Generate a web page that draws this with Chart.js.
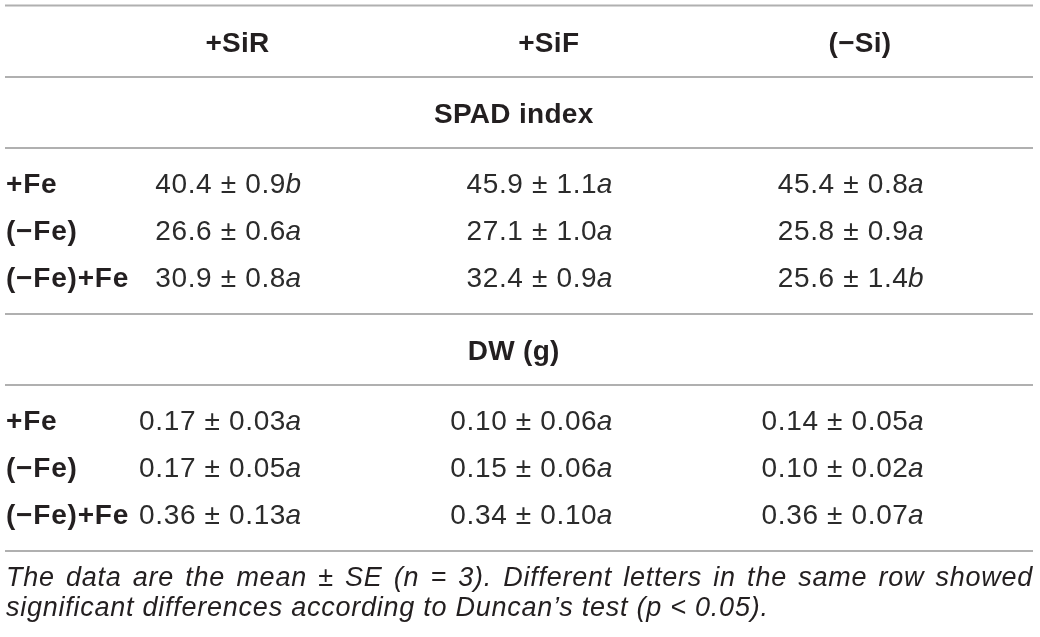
<!DOCTYPE html>
<html>
<head>
<meta charset="utf-8">
<script src="https://cdn.jsdelivr.net/npm/chart.js@4.4.1/dist/chart.umd.min.js"></script>
<style>
  html, body { margin: 0; padding: 0; background: #ffffff; }
  #wrap { width: 1040px; height: 637px; position: relative; }
</style>
</head>
<body>
<div id="wrap"><canvas id="c" width="1040" height="637"></canvas></div>
<script>
// ---------- data ----------
const columns = ['+SiR', '+SiF', '(\u2212Si)'];
const rowLabels = ['+Fe', '(\u2212Fe)', '(\u2212Fe)+Fe'];
const sectionTitles = ['SPAD index', 'DW (g)'];

// rows = Fe treatment, columns = Si treatment
const spadMean   = [[40.4, 45.9, 45.4], [26.6, 27.1, 25.8], [30.9, 32.4, 25.6]];
const spadSE     = [[0.9, 1.1, 0.8], [0.6, 1.0, 0.9], [0.8, 0.9, 1.4]];
const spadLetter = [['b', 'a', 'a'], ['a', 'a', 'a'], ['a', 'a', 'b']];

const dwMean   = [[0.17, 0.10, 0.14], [0.17, 0.15, 0.10], [0.36, 0.34, 0.36]];
const dwSE     = [[0.03, 0.06, 0.05], [0.05, 0.06, 0.02], [0.13, 0.10, 0.07]];
const dwLetter = [['a', 'a', 'a'], ['a', 'a', 'a'], ['a', 'a', 'a']];

const footnoteLine1 = 'The data are the mean \u00b1 SE (n = 3). Different letters in the same row showed';
const footnoteLine2 = 'significant differences according to Duncan\u2019s test (p < 0.05).';

// ---------- layout (sizes) ----------
const W = 1040, H = 637;
const colPitch = 311.25, firstColCenter = 237.5;
const valueRightOffset = 63.5;
const FONT = '"Liberation Sans", Arial, Helvetica, sans-serif';
const textColor = '#231f20';
const valueColor = '#2b2b2b';
const ruleColor = '#b0b0b0';

const topRule = 5.5;
const headH = 71.5, headBase = 46.5;
const secH = 71, secBase = 45.5;
const dataPadTop = 45, dataPitch = 47, dataPadBottom = 27;
const footFirst = 35, footPitch = 30;

const xMin = 1 - firstColCenter / colPitch;
const xMax = xMin + W / colPitch;

const sections = [
  { title: sectionTitles[0], mean: spadMean, se: spadSE, letter: spadLetter, dec: 1 },
  { title: sectionTitles[1], mean: dwMean, se: dwSE, letter: dwLetter, dec: 2 }
];

function setSpacing(ctx, v) { if ('letterSpacing' in ctx) ctx.letterSpacing = v + 'px'; }

const tablePlugin = {
  id: 'tablePlugin',
  afterDraw(chart) {
    const ctx = chart.ctx;
    const xs = chart.scales.x, ys = chart.scales.y;
    const left = chart.chartArea.left;
    const px = v => xs.getPixelForValue(v);
    const py = v => ys.getPixelForValue(v);
    const ruleL = left + 5, ruleR = left + 1033;

    ctx.save();
    const rule = (yv) => {
      ctx.beginPath();
      ctx.strokeStyle = ruleColor;
      ctx.lineWidth = 2;
      ctx.moveTo(ruleL, py(yv));
      ctx.lineTo(ruleR, py(yv));
      ctx.stroke();
    };

    let y = topRule;
    rule(y);
    // header
    ctx.fillStyle = textColor;
    ctx.font = 'bold 28px ' + FONT;
    setSpacing(ctx, 0.3);
    ctx.textAlign = 'center';
    ctx.textBaseline = 'alphabetic';
    columns.forEach((c, i) => ctx.fillText(c, px(i + 1), py(y + headBase)));
    y += headH;
    rule(y);

    sections.forEach(sec => {
      // section title
      ctx.fillStyle = textColor;
      ctx.font = 'bold 28px ' + FONT;
      setSpacing(ctx, 0.3);
      ctx.textAlign = 'center';
      ctx.fillText(sec.title, px(2) - 35, py(y + secBase));
      y += secH;
      rule(y);
      // data rows
      rowLabels.forEach((lab, r) => {
        const by = py(y + dataPadTop + r * dataPitch);
        ctx.fillStyle = textColor;
        ctx.font = 'bold 28px ' + FONT;
        setSpacing(ctx, 0.8);
        ctx.textAlign = 'left';
        ctx.fillText(lab, left + 6, by);
        for (let c = 0; c < columns.length; c++) {
          const main = sec.mean[r][c].toFixed(sec.dec) + ' \u00b1 ' + sec.se[r][c].toFixed(sec.dec);
          const letter = sec.letter[r][c];
          const right = px(c + 1) + valueRightOffset;
          setSpacing(ctx, 0);
          ctx.font = 'italic 28px ' + FONT;
          const lw = ctx.measureText(letter).width;
          ctx.textAlign = 'left';
          ctx.fillStyle = valueColor;
          ctx.fillText(letter, right - lw, by);
          ctx.font = '28px ' + FONT;
          setSpacing(ctx, 0.65);
          ctx.textAlign = 'right';
          ctx.fillText(main, right - lw + 0.65, by);
        }
      });
      y += dataPadTop + (rowLabels.length - 1) * dataPitch + dataPadBottom;
      rule(y);
    });

    // footnote
    ctx.fillStyle = textColor;
    ctx.font = 'italic 27px ' + FONT;
    setSpacing(ctx, 0.75);
    ctx.textAlign = 'left';
    const words = footnoteLine1.split(' ');
    const widths = words.map(w => ctx.measureText(w).width);
    const total = widths.reduce((a, b) => a + b, 0);
    const gap = (ruleR - (left + 6) - total) / (words.length - 1);
    let xx = left + 6;
    const fy1 = py(y + footFirst);
    words.forEach((w, i) => { ctx.fillText(w, xx, fy1); xx += widths[i] + gap; });
    ctx.fillText(footnoteLine2, left + 6, py(y + footFirst + footPitch));
    ctx.restore();
  }
};

new Chart(document.getElementById('c'), {
  type: 'scatter',
  data: { datasets: [{ data: [], pointRadius: 0 }] },
  options: {
    responsive: false,
    animation: false,
    devicePixelRatio: 1,
    layout: { padding: 0 },
    plugins: { legend: { display: false }, tooltip: { enabled: false }, title: { display: false } },
    scales: {
      x: { type: 'linear', min: xMin, max: xMax, display: false },
      y: { type: 'linear', min: 0, max: H, reverse: true, display: false }
    }
  },
  plugins: [tablePlugin]
});
</script>
</body>
</html>
